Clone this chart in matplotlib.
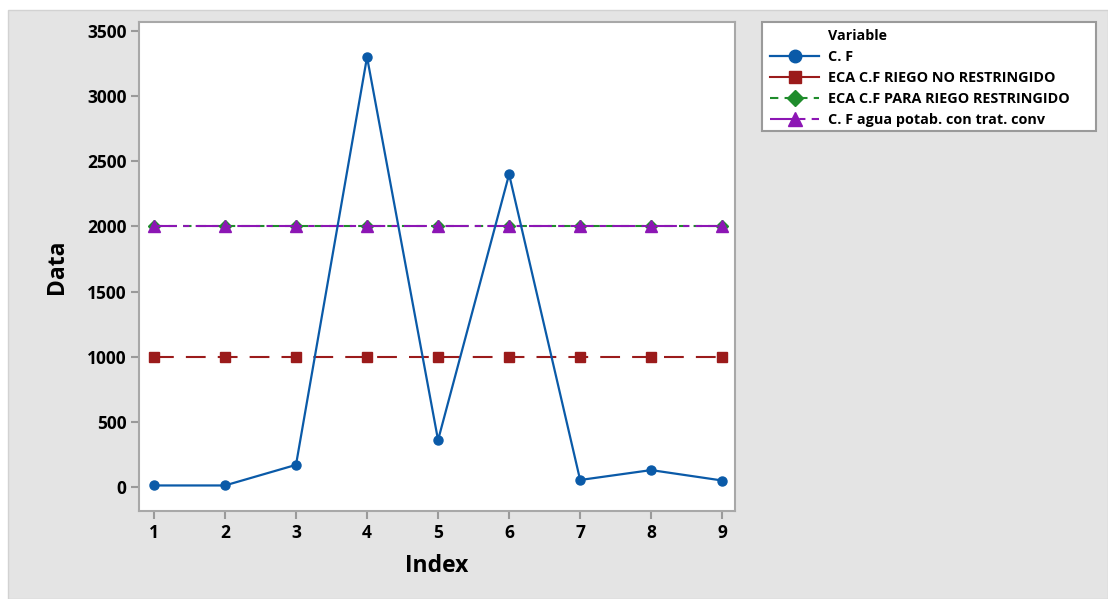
import matplotlib
matplotlib.use("Agg")
import matplotlib.pyplot as plt
from matplotlib.patches import Rectangle
from matplotlib.lines import Line2D

plt.rcParams['font.family'] = ['Open Sans', 'DejaVu Sans']

# Data
index = [1, 2, 3, 4, 5, 6, 7, 8, 9]
cf = [12, 12, 170, 3300, 360, 2400, 54, 130, 50]
eca_no_restringido = [1000] * 9
eca_restringido = [2000] * 9
cf_agua_potab = [2000] * 9

labels = ["C. F", "ECA C.F RIEGO NO RESTRINGIDO",
          "ECA C.F PARA RIEGO RESTRINGIDO", "C. F agua potab. con trat. conv"]
yticks = [0, 500, 1000, 1500, 2000, 2500, 3000, 3500]

W, H = 1108, 599
fig = plt.figure(figsize=(W / 100, H / 100), dpi=100, facecolor="white")

# grey panel behind everything
fig.patches.append(Rectangle((8 / W, 0), 1 - 8 / W, 1 - 10 / H, transform=fig.transFigure,
                             facecolor="#e4e4e4", edgecolor="#d2d2d2", lw=1.0, zorder=-10))

ax = fig.add_axes([139 / W, 1 - 511 / H, (735 - 139) / W, (511 - 22) / H])
ax.set_facecolor("white")

blue = "#0a5aa8"
red = "#9b1b1b"
green = "#1f8c2c"
purple = "#8c16b4"

l_red, = ax.plot(index, eca_no_restringido, color=red, lw=1.5, dashes=(9.5, 5.8),
                 marker="s", ms=6.5, zorder=3)
l_green, = ax.plot(index, eca_restringido, color=green, lw=1.5, dashes=(4, 3),
                   marker="D", ms=6, zorder=3)
l_purple, = ax.plot(index, cf_agua_potab, color=purple, lw=1.5, dashes=(11, 3, 3, 3),
                    marker="^", ms=8, zorder=4)
l_blue, = ax.plot(index, cf, color=blue, lw=1.6, marker="o", ms=6.5, zorder=5)

ax.set_xlim(0.79, 9.18)
ax.set_ylim(-184, 3569)
ax.set_xticks(index)
ax.set_yticks(yticks)
ax.tick_params(axis="both", direction="out", length=6, width=1.5, color="#9a9a9a",
               labelsize=12.5, labelcolor="black", pad=3)
for lab in ax.get_xticklabels() + ax.get_yticklabels():
    lab.set_fontweight("bold")
for sp in ax.spines.values():
    sp.set_color("#a8a8a8")
    sp.set_linewidth(1.5)

ax.set_xlabel("Index", fontsize=16.5, fontweight="bold", labelpad=9)
ax.set_ylabel("Data", fontsize=16.5, fontweight="bold", labelpad=13)

# legend box
fig.patches.append(Rectangle((762 / W, 1 - 131 / H), (1096 - 762) / W, (131 - 22) / H,
                             transform=fig.transFigure, facecolor="white",
                             edgecolor="#9a9a9a", lw=1.5, zorder=1))
fig.text(828 / W, 1 - 36 / H, "Variable", fontsize=10.3, fontweight="bold",
         va="center", ha="left", zorder=5)

handles = [
    Line2D([], [], color=blue, lw=1.6, marker="o", ms=9),
    Line2D([], [], color=red, lw=1.5, marker="s", ms=9),
    Line2D([], [], color=green, lw=1.5, dashes=(4, 3), marker="D", ms=8),
    Line2D([], [], color=purple, lw=1.5, dashes=(11, 3, 3, 3), marker="^", ms=10),
]
leg = fig.legend(handles, labels, loc="upper left", bbox_to_anchor=(770 / W, 1 - 50 / H),
                 frameon=False, fontsize=10.4, handlelength=3.4, handletextpad=0.62,
                 labelspacing=0.48, borderpad=0, borderaxespad=0, numpoints=1)
for t in leg.get_texts():
    t.set_fontweight("bold")

fig.savefig("out.png", dpi=100, facecolor="white")
